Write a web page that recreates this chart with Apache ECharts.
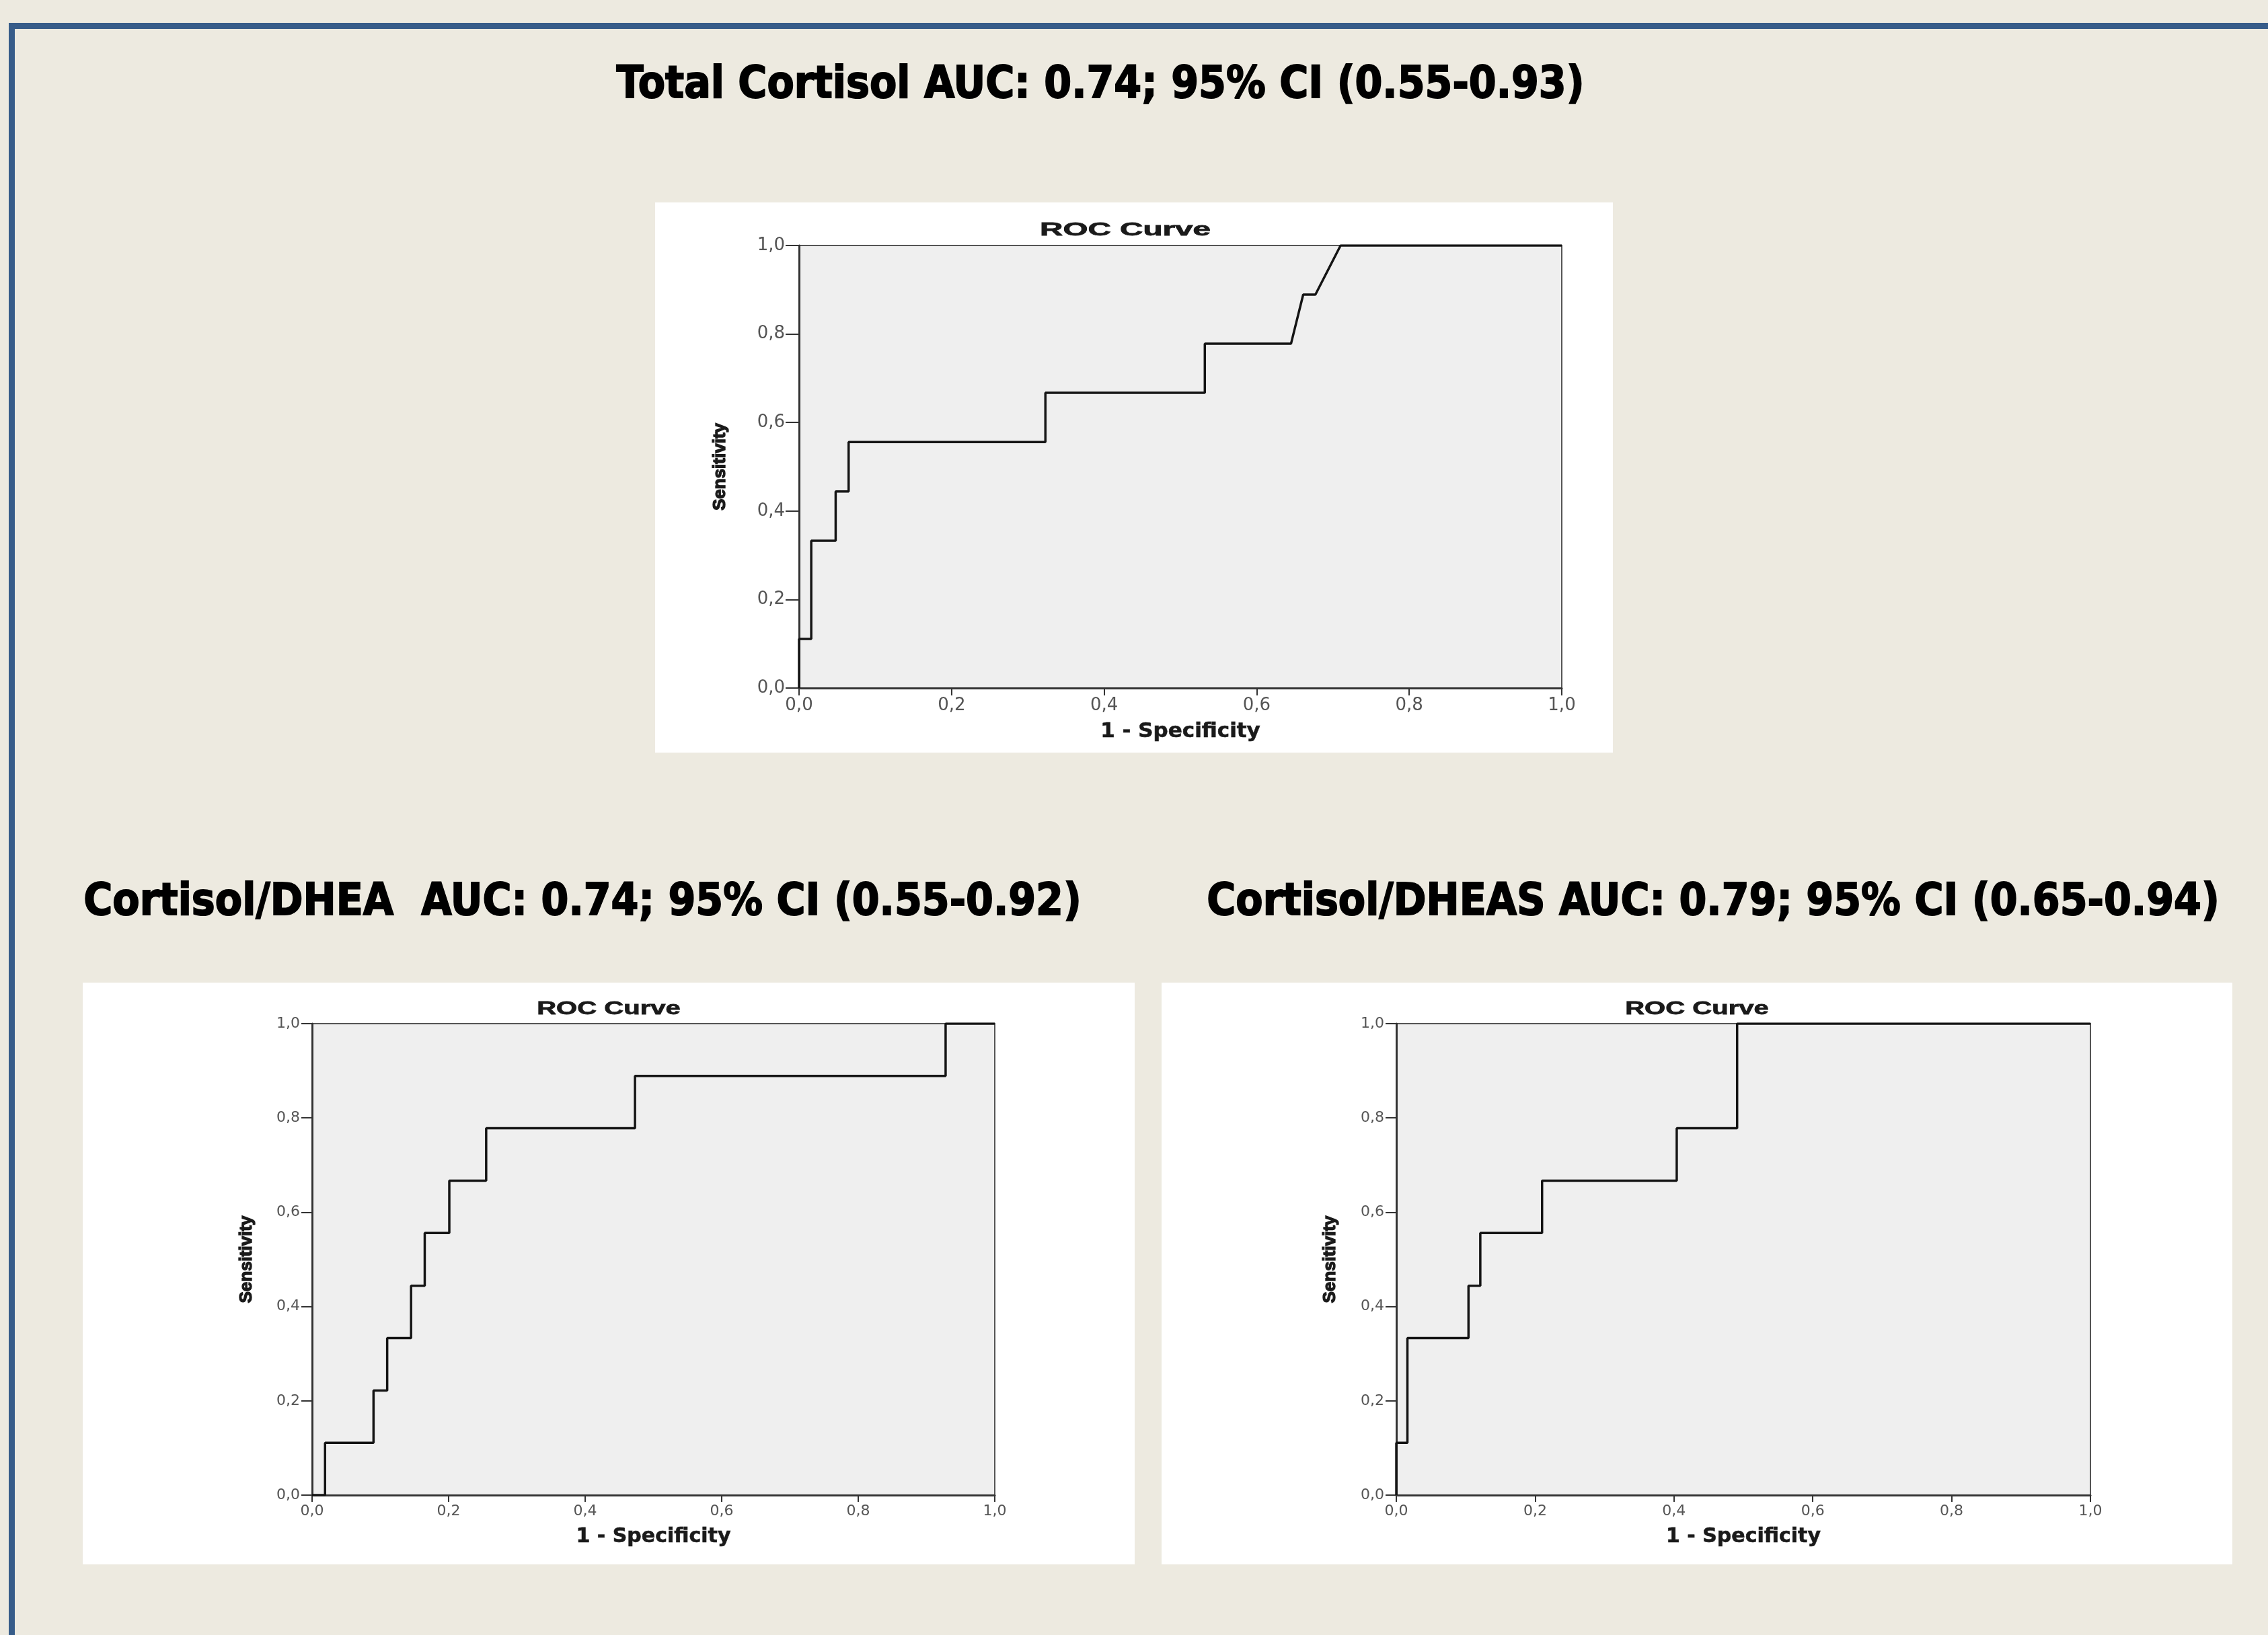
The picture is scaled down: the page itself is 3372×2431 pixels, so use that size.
<!DOCTYPE html>
<html>
<head>
<meta charset="utf-8">
<script src="https://cdn.jsdelivr.net/npm/echarts@6/dist/echarts.min.js"></script>
<style>
html,body{margin:0;padding:0;background:#edeae0;}
#chart{width:3372px;height:2431px;}
</style>
</head>
<body>
<div id="chart"></div>
<script>
// ---- Data ----
const tickLabels = ['0,0', '0,2', '0,4', '0,6', '0,8', '1,0'];

const panelTitles = [
  'Total Cortisol AUC: 0.74; 95% CI (0.55-0.93)',
  'Cortisol/DHEA  AUC: 0.74; 95% CI (0.55-0.92)',
  'Cortisol/DHEAS AUC: 0.79; 95% CI (0.65-0.94)'
];
const chartTitle = 'ROC Curve';
const xName = '1 - Specificity';
const yName = 'Sensitivity';

// Total Cortisol ROC vertices
const totalCortisolFPR = [0, 0, 0.016, 0.016, 0.048, 0.048, 0.065, 0.065, 0.323, 0.323, 0.532, 0.532, 0.645, 0.661, 0.677, 0.710, 1.0];
const totalCortisolTPR = [0, 0.111, 0.111, 0.333, 0.333, 0.444, 0.444, 0.556, 0.556, 0.667, 0.667, 0.778, 0.778, 0.889, 0.889, 1.0, 1.0];

// Cortisol/DHEA ROC vertices
const dheaFPR = [0, 0.019, 0.019, 0.090, 0.090, 0.110, 0.110, 0.145, 0.145, 0.165, 0.165, 0.201, 0.201, 0.255, 0.255, 0.473, 0.473, 0.928, 0.928, 1.0];
const dheaTPR = [0, 0, 0.111, 0.111, 0.222, 0.222, 0.333, 0.333, 0.444, 0.444, 0.556, 0.556, 0.667, 0.667, 0.778, 0.778, 0.889, 0.889, 1.0, 1.0];

// Cortisol/DHEAS ROC vertices
const dheasFPR = [0, 0, 0.016, 0.016, 0.104, 0.104, 0.121, 0.121, 0.210, 0.210, 0.404, 0.404, 0.491, 0.491, 1.0];
const dheasTPR = [0, 0.111, 0.111, 0.333, 0.333, 0.444, 0.444, 0.556, 0.556, 0.667, 0.667, 0.778, 0.778, 1.0, 1.0];

// ---- Layout ----
const grids = [
  {left: 1188, top: 365, width: 1134, height: 658},
  {left: 464, top: 1522, width: 1015, height: 701},
  {left: 2076, top: 1522, width: 1032, height: 701}
];
const panels = [
  {x: 974, y: 301, w: 1424, h: 818},
  {x: 123, y: 1461, w: 1564, h: 865},
  {x: 1727, y: 1461, w: 1592, h: 865}
];
const axisStyle = [
  {tickFs: 26, nameFs: 31, xGap: 49, yGap: 104, xMargin: 13, yMargin: 21, yTick: 20, xTick: 11, yNameFs: 26},
  {tickFs: 22, nameFs: 30, xGap: 47, yGap: 84, xMargin: 13, yMargin: 18, yTick: 16, xTick: 10, yNameFs: 26},
  {tickFs: 22, nameFs: 30, xGap: 47, yGap: 85, xMargin: 13, yMargin: 18, yTick: 16, xTick: 10, yNameFs: 26}
];
const rocTitlePos = [
  {x: 1673, y: 342, sx: 1.7},
  {x: 905, y: 1500, sx: 1.43},
  {x: 2523, y: 1500, sx: 1.43}
];
const bigTitlePos = [
  {x: 1636, y: 128},
  {x: 866, y: 1343},
  {x: 2547, y: 1343}
];

const fmt = v => tickLabels[Math.round(v / 0.2)];

const xAxes = [], yAxes = [], series = [];
const curves = [
  [totalCortisolFPR, totalCortisolTPR],
  [dheaFPR, dheaTPR],
  [dheasFPR, dheasTPR]
];
for (let i = 0; i < 3; i++) {
  const s = axisStyle[i];
  xAxes.push({
    gridIndex: i, type: 'value', min: 0, max: 1, interval: 0.2,
    name: xName, nameLocation: 'middle', nameGap: s.xGap,
    nameTextStyle: {fontFamily: 'DejaVu Sans', fontWeight: 'bold', fontSize: s.nameFs, color: '#1a1a1a',
      textBorderColor: '#1a1a1a', textBorderWidth: 0.6},
    axisLine: {show: true, onZero: false, lineStyle: {color: '#333', width: 3}},
    axisTick: {show: true, length: s.xTick, lineStyle: {color: '#333', width: 2}},
    axisLabel: {formatter: fmt, margin: s.xMargin, fontFamily: 'DejaVu Sans', fontSize: s.tickFs, color: '#555'},
    splitLine: {show: false}
  });
  yAxes.push({
    gridIndex: i, type: 'value', min: 0, max: 1, interval: 0.2,
    name: yName, nameLocation: 'middle', nameGap: s.yGap,
    nameTextStyle: {fontFamily: 'Liberation Sans', fontWeight: 'bold', fontSize: s.yNameFs, color: '#1a1a1a',
      textBorderColor: '#1a1a1a', textBorderWidth: 1.4},
    axisLine: {show: true, onZero: false, lineStyle: {color: '#333', width: 3}},
    axisTick: {show: true, length: s.yTick, lineStyle: {color: '#333', width: 2}},
    axisLabel: {formatter: fmt, margin: s.yMargin, fontFamily: 'DejaVu Sans', fontSize: s.tickFs, color: '#555'},
    splitLine: {show: false}
  });
  const [fx, ty] = curves[i];
  series.push({
    type: 'line', xAxisIndex: i, yAxisIndex: i,
    data: fx.map((x, k) => [x, ty[k]]),
    showSymbol: false, symbol: 'none', smooth: false,
    lineStyle: {color: '#141414', width: 3.5},
    z: 5
  });
}

const graphics = [];
// outer border (left + top)
graphics.push({
  type: 'polyline', z: -20, silent: true,
  shape: {points: [[17.5, 2440], [17.5, 38.5], [3380, 38.5]]},
  style: {stroke: '#375c89', lineWidth: 9, fill: null}
});
// white chart panels
panels.forEach(p => graphics.push({
  type: 'rect', z: -10, silent: true,
  shape: {x: p.x, y: p.y, width: p.w, height: p.h},
  style: {fill: '#ffffff'}
}));
// big titles
bigTitlePos.forEach((p, i) => graphics.push({
  type: 'text', z: 10, silent: true, x: p.x, y: p.y, scaleX: 0.89,
  style: {text: panelTitles[i], font: 'bold 66px "DejaVu Sans"', fill: '#000',
    stroke: '#000', lineWidth: 2,
    textAlign: 'center', textVerticalAlign: 'middle', align: 'center', verticalAlign: 'middle'}
}));
// ROC Curve chart titles
rocTitlePos.forEach(p => graphics.push({
  type: 'text', z: 10, silent: true, x: p.x, y: p.y, scaleX: p.sx,
  style: {text: chartTitle, font: 'bold 28px "Liberation Sans"', fill: '#1a1a1a',
    stroke: '#1a1a1a', lineWidth: 0.8,
    textAlign: 'center', textVerticalAlign: 'middle', align: 'center', verticalAlign: 'middle'}
}));

const chart = echarts.init(document.getElementById('chart'), null, {renderer: 'canvas'});
chart.setOption({
  backgroundColor: '#edeae0',
  animation: false,
  grid: grids.map(g => Object.assign({show: true, backgroundColor: '#efefef', borderColor: '#555', borderWidth: 2, containLabel: false}, g)),
  xAxis: xAxes,
  yAxis: yAxes,
  series: series,
  graphic: {elements: graphics}
});
</script>
</body>
</html>
